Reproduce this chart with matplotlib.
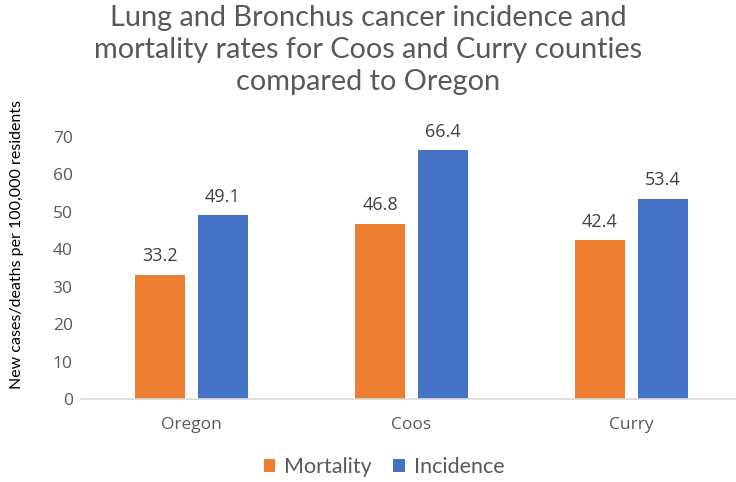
import matplotlib
matplotlib.use("Agg")
from matplotlib import pyplot as plt
import numpy as np

regions = ["Oregon", "Coos", "Curry"]
mortality = [33.2, 46.8, 42.4]
incidence = [49.1, 66.4, 53.4]
yticks = [0, 10, 20, 30, 40, 50, 60, 70]

plt.rcParams['font.family'] = ['Lato', 'DejaVu Sans']

W, H = 736, 482
fig = plt.figure(figsize=(W / 100, H / 100), dpi=100)
# axes pixel box: left 81, right 741, bottom 399, top 137 (y=70)
ax = fig.add_axes([81 / W, (H - 399) / H, 660 / W, (399 - 137) / H])

x = np.arange(len(regions))
bw = 0.227
b1 = ax.bar(x - 0.141, mortality, bw, color='#ED7D31', label='Mortality')
b2 = ax.bar(x + 0.145, incidence, bw, color='#4472C4', label='Incidence')

for bars in (b1, b2):
    for b in bars:
        ax.annotate(f"{b.get_height():.1f}", (b.get_x() + b.get_width() / 2, b.get_height()),
                    xytext=(0, 7), textcoords='offset points', ha='center', va='bottom',
                    fontsize=13, color='#404040', family=['Open Sans', 'DejaVu Sans'])

ax.set_xlim(-0.5, 2.5)
ax.set_ylim(0, 70)
ax.set_yticks(yticks)
ax.set_xticks(x)
ax.set_xticklabels(regions)
for s in ['top', 'right', 'left']:
    ax.spines[s].set_visible(False)
ax.spines['bottom'].set_color('#d9d9d9')
ax.spines['bottom'].set_linewidth(1.2)
ax.tick_params(axis='both', length=0, labelsize=12.5, labelcolor='#595959')
ax.tick_params(axis='x', pad=13)
ax.tick_params(axis='y', pad=6)
for lab in ax.get_xticklabels() + ax.get_yticklabels():
    lab.set_family(['Open Sans', 'DejaVu Sans'])

ax.set_ylabel("New cases/deaths per 100,000 residents", fontsize=11.5, color='black',
              family=['Lato', 'DejaVu Sans'])
ax.yaxis.set_label_coords(-57 / 660, 0.59)

fig.suptitle("Lung and Bronchus cancer incidence and\nmortality rates for Coos and Curry counties\ncompared to Oregon",
             x=0.5, y=0.99, fontsize=20.8, color='#595959', linespacing=1.29)

fig.legend(handles=[b1, b2], loc='center', bbox_to_anchor=(384 / W, 1 - 467 / H), ncol=2,
           frameon=False, fontsize=15.5, labelcolor='#595959', handlelength=0.55, handleheight=0.55,
           handletextpad=0.4, columnspacing=1.0)

fig.savefig("out.png", dpi=100)
